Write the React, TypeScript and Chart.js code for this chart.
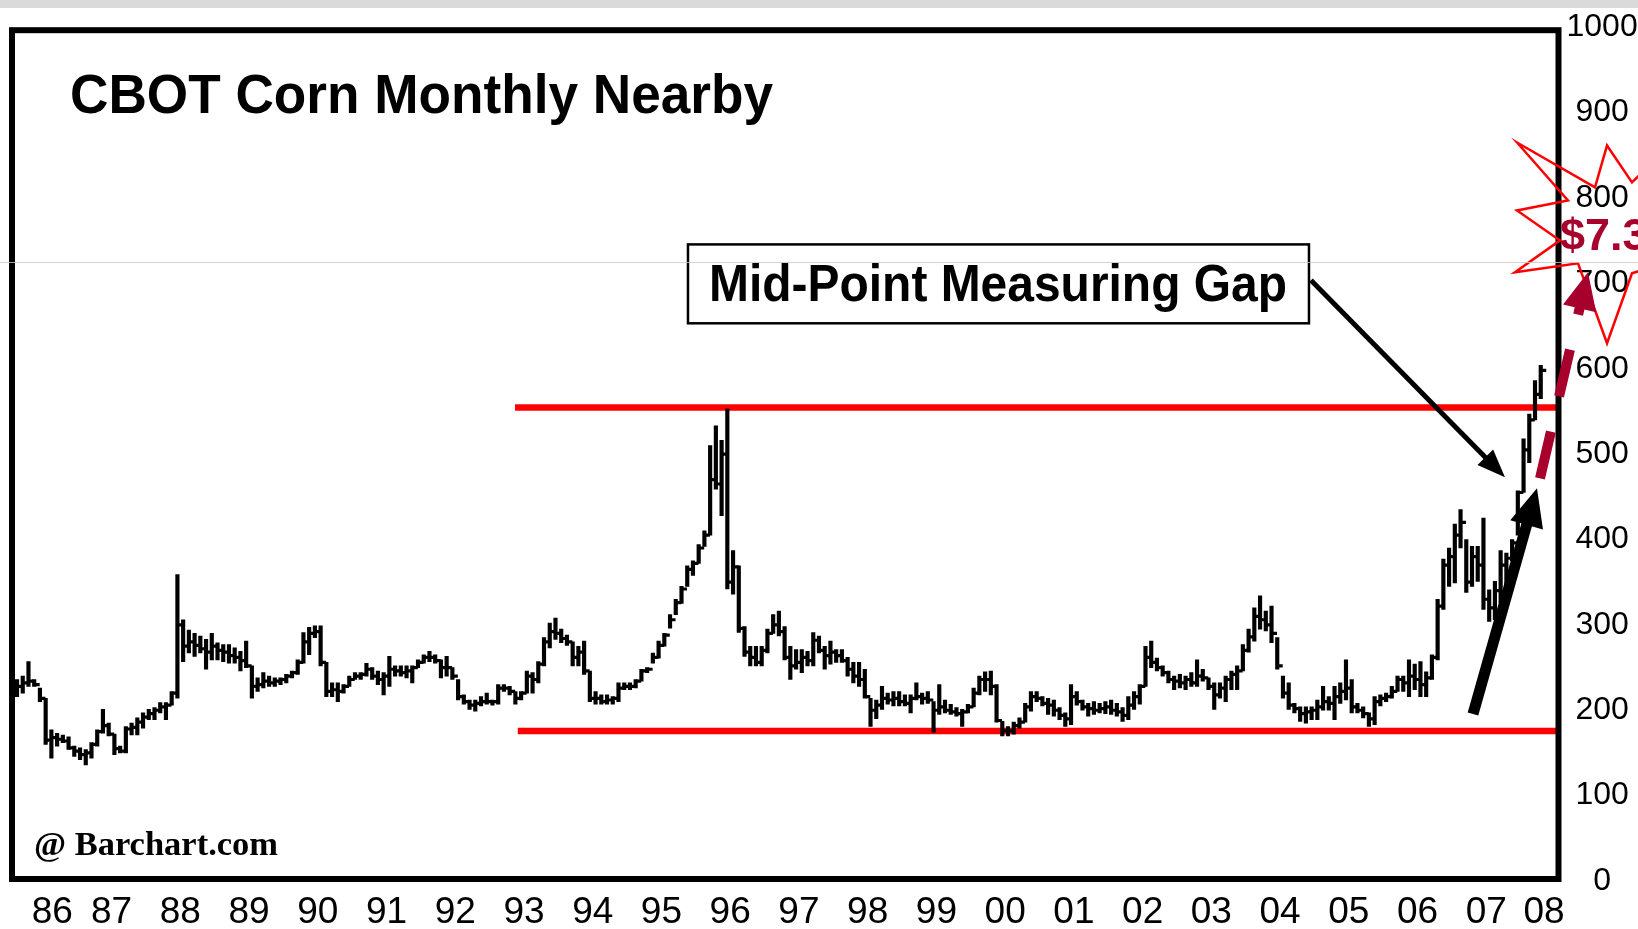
import React, { useEffect, useRef } from 'react';
import { Chart, registerables } from 'chart.js';

Chart.register(...registerables);

// ---------------- data ----------------
// Monthly nearby corn futures (cents/bu), first bar = Feb 1986
const START_YEAR = 1986;
const START_MONTH = 2;

const highs: number[] = [
  /*1986*/ 236, 240, 257, 236, 226, 214, 177, 173, 171, 169, 158,
  /*1987*/ 156, 154, 162, 177, 201, 185, 172, 158, 181, 185, 191, 197,
  /*1988*/ 201, 203, 209, 209, 222, 359, 306, 294, 290, 287, 283, 290,
  /*1989*/ 279, 277, 277, 273, 269, 281, 252, 238, 244, 240, 238, 238,
  /*1990*/ 242, 246, 259, 291, 297, 299, 299, 256, 232, 232, 230, 240,
  /*1991*/ 244, 244, 255, 250, 246, 244, 263, 252, 252, 252, 252, 259,
  /*1992*/ 265, 269, 265, 259, 263, 250, 236, 218, 212, 212, 216, 220,
  /*1993*/ 212, 230, 230, 228, 222, 222, 246, 244, 257, 285, 302, 308,
  /*1994*/ 295, 288, 280, 275, 281, 246, 222, 218, 218, 216, 232, 232,
  /*1995*/ 232, 236, 248, 250, 267, 281, 290, 312, 330, 345, 369, 375,
  /*1996*/ 394, 410, 510, 533, 516, 553, 387, 369, 298, 275, 275, 275,
  /*1997*/ 295, 312, 316, 298, 275, 271, 271, 269, 291, 287, 275, 281,
  /*1998*/ 271, 271, 262, 256, 256, 248, 214, 212, 228, 220, 222, 222,
  /*1999*/ 218, 218, 232, 220, 222, 210, 230, 212, 207, 203, 201, 207,
  /*2000*/ 226, 240, 245, 246, 230, 187, 181, 186, 191, 208, 222, 222,
  /*2001*/ 216, 214, 212, 203, 197, 230, 222, 212, 208, 210, 208, 210,
  /*2002*/ 212, 208, 203, 216, 222, 230, 275, 281, 261, 252, 246, 240,
  /*2003*/ 242, 240, 244, 259, 248, 238, 232, 232, 240, 246, 252, 277,
  /*2004*/ 295, 320, 334, 316, 322, 285, 240, 232, 208, 204, 204, 204,
  /*2005*/ 212, 228, 216, 228, 232, 259, 236, 208, 204, 197, 216, 218,
  /*2006*/ 220, 228, 240, 240, 259, 254, 257, 245, 265, 330, 377, 390,
  /*2007*/ 418, 435, 400, 392, 392, 425, 341, 351, 387, 384, 400, 457,
  /*2008*/ 518, 547, 586, 604,
];

const lows: number[] = [
  /*1986*/ 216, 220, 228, 228, 210, 160, 144, 158, 162, 154, 146,
  /*1987*/ 142, 136, 144, 158, 173, 170, 148, 150, 150, 171, 171, 179,
  /*1988*/ 189, 189, 197, 189, 206, 214, 257, 267, 263, 267, 248, 259,
  /*1989*/ 259, 257, 255, 255, 246, 250, 214, 222, 226, 228, 228, 230,
  /*1990*/ 232, 238, 242, 255, 265, 285, 252, 216, 216, 210, 220, 228,
  /*1991*/ 236, 236, 240, 236, 230, 218, 228, 240, 240, 238, 232, 250,
  /*1992*/ 255, 257, 255, 238, 240, 236, 212, 207, 201, 199, 205, 207,
  /*1993*/ 206, 207, 222, 218, 207, 212, 220, 220, 232, 252, 273, 283,
  /*1994*/ 279, 276, 252, 252, 242, 210, 207, 207, 207, 207, 210, 224,
  /*1995*/ 224, 226, 234, 244, 255, 261, 275, 296, 312, 325, 345, 358,
  /*1996*/ 372, 392, 405, 459, 428, 342, 336, 291, 263, 252, 252, 252,
  /*1997*/ 267, 290, 287, 259, 236, 248, 244, 252, 252, 267, 248, 254,
  /*1998*/ 256, 256, 240, 232, 228, 214, 181, 190, 201, 207, 205, 205,
  /*1999*/ 205, 197, 212, 207, 208, 174, 195, 197, 195, 193, 181, 197,
  /*2000*/ 204, 218, 222, 218, 186, 170, 170, 172, 179, 186, 199, 210,
  /*2001*/ 205, 195, 193, 189, 181, 183, 206, 200, 193, 195, 197, 196,
  /*2002*/ 195, 193, 187, 189, 201, 207, 228, 250, 246, 240, 232, 224,
  /*2003*/ 226, 224, 228, 228, 234, 224, 201, 214, 210, 224, 224, 246,
  /*2004*/ 268, 281, 295, 293, 279, 248, 214, 201, 197, 187, 185, 189,
  /*2005*/ 189, 200, 200, 189, 208, 212, 197, 197, 191, 181, 183, 205,
  /*2006*/ 210, 214, 222, 222, 216, 224, 216, 216, 236, 259, 318, 345,
  /*2007*/ 349, 390, 338, 345, 351, 318, 304, 306, 326, 345, 375, 405,
  /*2008*/ 455, 490, 540, 565,
];

const closes: number[] = [
  /*1986*/ 228, 232, 234, 230, 214, 165, 168, 166, 164, 156, 152,
  /*1987*/ 148, 150, 160, 175, 182, 172, 155, 152, 178, 180, 186, 192,
  /*1988*/ 196, 200, 204, 206, 220, 300, 275, 280, 276, 272, 268, 275,
  /*1989*/ 270, 268, 264, 262, 258, 252, 228, 230, 234, 232, 234, 236,
  /*1990*/ 240, 244, 256, 280, 290, 292, 256, 222, 224, 222, 228, 236,
  /*1991*/ 240, 242, 248, 240, 236, 240, 248, 246, 244, 246, 250, 256,
  /*1992*/ 262, 262, 258, 250, 250, 240, 216, 210, 206, 208, 210, 210,
  /*1993*/ 210, 226, 226, 222, 214, 220, 240, 236, 254, 280, 292, 290,
  /*1994*/ 284, 280, 262, 268, 246, 214, 214, 210, 212, 214, 226, 228,
  /*1995*/ 228, 234, 246, 248, 262, 276, 288, 306, 326, 342, 365, 372,
  /*1996*/ 390, 405, 470, 465, 500, 350, 368, 296, 268, 262, 256, 270,
  /*1997*/ 290, 300, 292, 262, 252, 256, 262, 258, 282, 270, 264, 268,
  /*1998*/ 264, 258, 248, 240, 236, 216, 200, 206, 214, 212, 214, 210,
  /*1999*/ 208, 214, 216, 214, 212, 200, 204, 200, 198, 196, 198, 204,
  /*2000*/ 220, 236, 236, 228, 188, 176, 176, 182, 186, 204, 216, 214,
  /*2001*/ 208, 206, 200, 194, 190, 216, 210, 204, 202, 200, 202, 204,
  /*2002*/ 200, 198, 194, 206, 216, 228, 262, 256, 250, 244, 236, 234,
  /*2003*/ 232, 236, 232, 240, 238, 228, 218, 226, 236, 242, 246, 270,
  /*2004*/ 286, 310, 306, 300, 290, 252, 220, 206, 202, 196, 198, 200,
  /*2005*/ 204, 210, 208, 216, 222, 226, 204, 200, 196, 190, 210, 214,
  /*2006*/ 216, 222, 236, 232, 240, 236, 230, 238, 262, 322, 370, 380,
  /*2007*/ 405, 420, 350, 380, 370, 330, 320, 340, 370, 378, 396, 455,
  /*2008*/ 505, 540, 570, 598,
];

const labelYears: number[] = [
  1986, 1987, 1988, 1989, 1990, 1991, 1992, 1993, 1994, 1995, 1996, 1997,
  1998, 1999, 2000, 2001, 2002, 2003, 2004, 2005, 2006, 2007, 2008,
];
const yearLabels: string[] = [
  '86', '87', '88', '89', '90', '91', '92', '93', '94', '95', '96', '97',
  '98', '99', '00', '01', '02', '03', '04', '05', '06', '07', '08',
];

// price levels (cents)
const resistanceLevel = 554.5;
const supportLevel = 175.8;
const levelsStartYear = 1993.37;

const titleText = 'CBOT Corn Monthly Nearby';
const gapText = 'Mid-Point Measuring Gap';
const sourceText = '@ Barchart.com';
const targetText = '$7.30';

// ---------------- layout helpers (data coordinates: year, price) ----------------
const X_MIN = 1986.052;
const X_MAX = 2008.55;
const TICK_SHIFT = 0.042;
const DARK_RED = '#a8002c';

const TITLE = { x0: 1986.896, x1: 1997.123, y: 899 };
const SOURCE = { x0: 1986.372, x1: 1989.922, y: 31 };
const GAP_BOX = { x0: 1995.886, x1: 2004.92, y0: 745.6, y1: 653.2 };
const GAP_TEXT = { x0: 1996.192, x1: 2004.6, y: 678.9 };
const TARGET = { x: 2008.572, y: 738.6 };
const THIN_ARROW = { x0: 2004.949, y0: 703.5, x1: 2007.771, y1: 472.9 };
const THICK_ARROW = { x0: 2007.306, y0: 195.5, x1: 2008.237, y1: 460.0 };
const RED_ARROW = { x0: 2008.281, y0: 471.7, x1: 2008.979, y1: 712.9 };
const STAR: [number, number][] = [
  [2007.946, 865.0], [2009.081, 812.4], [2009.256, 861.5], [2009.619, 818.2],
  [2010.099, 855.7], [2009.953, 779.6], [2010.608, 738.6], [2009.619, 711.7],
  [2009.256, 629.8], [2008.834, 723.4], [2007.917, 712.9], [2008.572, 750.3],
  [2007.946, 785.4], [2008.688, 797.1],
];
const SCAN_LINE_PRICE = 724.6;

const monthX = (i: number) => START_YEAR + (START_MONTH - 1 + i + 0.5) / 12;
const tickValues = labelYears.map((yr) =>
  Math.min(Math.max(yr + 0.5, X_MIN + 0.585), X_MAX - 0.21)
);

function fitText(ctx: any, text: string, font: string, x0: number, x1: number, yBase: number, color: string) {
  ctx.save();
  ctx.font = font;
  const w = ctx.measureText(text).width;
  const s = (x1 - x0) / w;
  ctx.translate(x0, yBase);
  ctx.scale(s, 1);
  ctx.fillStyle = color;
  ctx.textAlign = 'left';
  ctx.textBaseline = 'alphabetic';
  ctx.fillText(text, 0, 0);
  ctx.restore();
}

function drawArrow(ctx: any, x0: number, y0: number, x1: number, y1: number, lw: number,
  headLen: number, headHalf: number, color: string, dash?: number[], shaftEnd?: number) {
  const dx = x1 - x0, dy = y1 - y0;
  const L = Math.hypot(dx, dy);
  const ux = dx / L, uy = dy / L;
  const bx = x1 - ux * headLen, by = y1 - uy * headLen;
  const se = shaftEnd !== undefined ? shaftEnd : L - headLen + 2;
  ctx.save();
  ctx.strokeStyle = color;
  ctx.fillStyle = color;
  ctx.lineWidth = lw;
  ctx.lineCap = 'butt';
  if (dash) ctx.setLineDash(dash);
  ctx.beginPath();
  ctx.moveTo(x0, y0);
  ctx.lineTo(x0 + ux * se, y0 + uy * se);
  ctx.stroke();
  ctx.setLineDash([]);
  ctx.beginPath();
  ctx.moveTo(x1, y1);
  ctx.lineTo(bx - uy * headHalf, by + ux * headHalf);
  ctx.lineTo(bx + uy * headHalf, by - ux * headHalf);
  ctx.closePath();
  ctx.fill();
  ctx.restore();
}

const overlayPlugin = {
  id: 'overlay',
  beforeDraw(chart: any) {
    const { ctx, width } = chart;
    ctx.save();
    ctx.fillStyle = '#dadada';
    ctx.fillRect(0, 0, width, 8);
    ctx.restore();
  },
  afterDraw(chart: any) {
    const { ctx, chartArea: a, scales, width } = chart;
    const X = (v: number) => scales.x.getPixelForValue(v);
    const Y = (v: number) => scales.y.getPixelForValue(v);
    ctx.save();

    // frame
    ctx.strokeStyle = '#000';
    ctx.lineWidth = 6;
    ctx.lineJoin = 'miter';
    ctx.strokeRect(a.left, a.top + 3, a.right - a.left, a.bottom - a.top - 5);

    // title and source
    fitText(ctx, titleText, "bold 56px 'Liberation Sans', Arial, sans-serif",
      X(TITLE.x0), X(TITLE.x1), Y(TITLE.y), '#000');
    fitText(ctx, sourceText, "bold 34px 'Liberation Serif', 'Times New Roman', serif",
      X(SOURCE.x0), X(SOURCE.x1), Y(SOURCE.y), '#000');

    // gap box
    const bx0 = X(GAP_BOX.x0), bx1 = X(GAP_BOX.x1), by0 = Y(GAP_BOX.y0), by1 = Y(GAP_BOX.y1);
    ctx.fillStyle = '#fff';
    ctx.fillRect(bx0, by0, bx1 - bx0, by1 - by0);
    ctx.lineWidth = 2.5;
    ctx.strokeStyle = '#000';
    ctx.strokeRect(bx0, by0, bx1 - bx0, by1 - by0);
    fitText(ctx, gapText, "bold 52px 'Liberation Sans', Arial, sans-serif",
      X(GAP_TEXT.x0), X(GAP_TEXT.x1), Y(GAP_TEXT.y), '#000');

    // black arrows
    drawArrow(ctx, X(THIN_ARROW.x0), Y(THIN_ARROW.y0), X(THIN_ARROW.x1), Y(THIN_ARROW.y1),
      5, 28, 11, '#000');
    drawArrow(ctx, X(THICK_ARROW.x0), Y(THICK_ARROW.y0), X(THICK_ARROW.x1), Y(THICK_ARROW.y1),
      11, 38, 17, '#000');

    // starburst
    ctx.beginPath();
    STAR.forEach(([t, p], i) => {
      if (i === 0) ctx.moveTo(X(t), Y(p));
      else ctx.lineTo(X(t), Y(p));
    });
    ctx.closePath();
    ctx.strokeStyle = '#ff0000';
    ctx.lineWidth = 2.5;
    ctx.lineJoin = 'miter';
    ctx.stroke();

    // dashed projection arrow
    drawArrow(ctx, X(RED_ARROW.x0), Y(RED_ARROW.y0), X(RED_ARROW.x1), Y(RED_ARROW.y1),
      10, 37, 17, DARK_RED, [48, 36], 180);

    // target text
    ctx.font = "bold 45px 'Liberation Sans', Arial, sans-serif";
    ctx.fillStyle = DARK_RED;
    ctx.textAlign = 'left';
    ctx.textBaseline = 'alphabetic';
    ctx.fillText(targetText, X(TARGET.x), Y(TARGET.y));

    // faint scan line
    const sy = Math.round(Y(SCAN_LINE_PRICE)) + 0.5;
    ctx.strokeStyle = 'rgba(200,200,200,0.8)';
    ctx.lineWidth = 1;
    ctx.beginPath();
    ctx.moveTo(0, sy);
    ctx.lineTo(width, sy);
    ctx.stroke();

    ctx.restore();
  },
};

export default function App() {
  const ref = useRef<HTMLCanvasElement>(null);

  useEffect(() => {
    const barData = highs.map((h, i) => ({ x: monthX(i), y: [lows[i], h] }));
    const closeData = closes.map((c, i) => ({ x: monthX(i) + TICK_SHIFT, y: c }));

    const chart = new Chart(ref.current as HTMLCanvasElement, {
      type: 'bar',
      data: {
        datasets: [
          {
            type: 'line',
            data: [{ x: levelsStartYear, y: resistanceLevel }, { x: X_MAX, y: resistanceLevel }],
            borderColor: '#ff0000',
            borderWidth: 6.5,
            borderCapStyle: 'butt',
            pointRadius: 0,
            fill: false,
            order: 10,
          },
          {
            type: 'line',
            data: [{ x: levelsStartYear + 0.04, y: supportLevel }, { x: X_MAX, y: supportLevel }],
            borderColor: '#ff0000',
            borderWidth: 6.5,
            borderCapStyle: 'butt',
            pointRadius: 0,
            fill: false,
            order: 10,
          },
          {
            type: 'bar',
            data: barData,
            backgroundColor: '#000',
            borderWidth: 0,
            barThickness: 3.5,
            order: 2,
          },
          {
            type: 'scatter',
            data: closeData,
            pointStyle: 'line',
            pointRadius: 2.6,
            pointHoverRadius: 2.6,
            pointBorderWidth: 3.2,
            pointBorderColor: '#000',
            pointBackgroundColor: '#000',
            order: 1,
          },
        ],
      } as any,
      options: {
        responsive: false,
        animation: false,
        devicePixelRatio: 1,
        events: [],
        layout: { padding: { left: 12, top: 27, right: 0, bottom: 0 } },
        plugins: {
          legend: { display: false },
          tooltip: { enabled: false },
          title: { display: false },
        },
        scales: {
          x: {
            type: 'linear',
            position: 'bottom',
            min: X_MIN,
            max: X_MAX,
            offset: false,
            grid: { display: false, drawTicks: false, offset: false },
            border: { display: false },
            afterBuildTicks: (s: any) => {
              s.ticks = tickValues.map((v) => ({ value: v }));
            },
            afterFit: (s: any) => {
              s.height = 48;
            },
            ticks: {
              autoSkip: false,
              maxRotation: 0,
              minRotation: 0,
              padding: 10,
              color: '#000',
              font: { family: "'Liberation Sans Narrow', 'Liberation Sans', Arial, sans-serif", size: 37 },
              callback: (_v: any, i: number) => yearLabels[i],
            },
          },
          y: {
            type: 'linear',
            position: 'right',
            min: 0,
            max: 1000,
            grid: { display: false, drawTicks: false },
            border: { display: false },
            afterFit: (s: any) => {
              s.width = 79.5;
            },
            ticks: {
              stepSize: 100,
              padding: 8,
              crossAlign: 'center',
              color: '#000',
              font: { family: "'Liberation Sans', Arial, sans-serif", size: 32 },
              callback: (v: any) => String(v),
            },
          },
        },
      } as any,
      plugins: [overlayPlugin],
    });
    return () => chart.destroy();
  }, []);

  return (
    <div style={{ position: 'fixed', left: 0, top: 0, width: 1638, height: 929, background: '#fff', overflow: 'hidden' }}>
      <canvas ref={ref} width={1638} height={929} style={{ display: 'block', width: 1638, height: 929 }} />
    </div>
  );
}
